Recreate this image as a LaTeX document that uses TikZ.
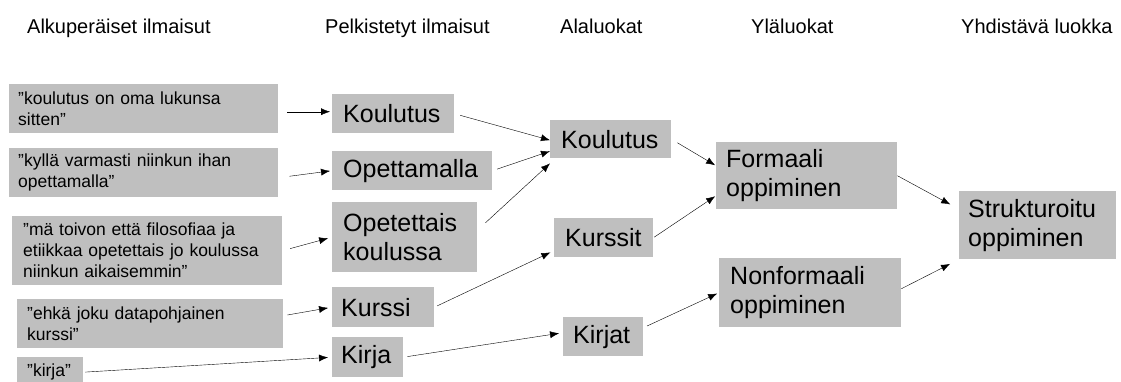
\documentclass[tikz,border=0pt]{standalone}
\usepackage{fontspec}
\setmainfont{Liberation Sans}
\usepackage{tikz}
\usetikzlibrary{positioning, arrows.meta}
\definecolor{boxgray}{RGB}{191,191,191}
\tikzset{
x=1pt, y=-1pt, % one unit is one pixel of the slide, y runs downwards
->, % every connector is directed
>={Latex[length=9pt,width=7pt]}, % small filled arrow heads
line width=1.1pt,
gaps/.style 2 args={shorten <=#1, shorten >=#2}, % free space at both ends of a connector
title/.style={anchor=base west, inner sep=0pt, font=\fontsize{20}{24}\selectfont},
quote/.style={anchor=north west, fill=boxgray, align=left, inner xsep=9pt, inner ysep=0pt,
  font=\fontsize{17.5}{21}\selectfont},
code/.style={anchor=north west, fill=boxgray, align=left, inner xsep=11pt, inner ysep=0pt,
  font=\fontsize{25}{29}\selectfont},
}

\begin{document}
\begin{tikzpicture}
\useasboundingbox (0,0) rectangle (1121,381);

% column titles
\node[title] (t1) at (27,33) {Alkuperäiset ilmaisut};
\node[title] (t2) at (325,33) {Pelkistetyt ilmaisut};
\node[title] (t3) at (560,33) {Alaluokat};
\node[title] (t4) at (751,33) {Yläluokat};
\node[title] (t5) at (961,33) {Yhdistävä luokka};

% original expressions
\node[quote, text width=251pt, minimum height=49pt] (q1) at (9,84) {"koulutus on oma lukunsa\\sitten”};
\node[quote, text width=251pt, minimum height=49pt] (q2) at (9,148) {"kyllä varmasti niinkun ihan\\opettamalla”};
\node[quote, inner xsep=11pt, text width=248pt, minimum height=69pt] (q3) at (12,216) {"mä toivon että filosofiaa ja\\etiikkaa opetettais jo koulussa\\niinkun aikaisemmin”};
\node[quote, inner xsep=10pt, text width=246pt, minimum height=49pt] (q4) at (17,299) {"ehkä joku datapohjainen\\kurssi”};
\node[quote, inner xsep=10pt, text width=46pt, minimum height=30pt] (q5) at (17,357) {"kirja”};

% reduced expressions
\node[code, text width=100pt, minimum height=39pt] (p1) at (332,94) {Koulutus};
\node[code, text width=138pt, minimum height=39pt] (p2) at (332,151) {Opettamalla};
\node[code, text width=123pt, minimum height=70pt] (p3) at (332,202) {Opetettais\\koulussa};
\node[code, inner xsep=9pt, text width=84pt, minimum height=40pt] (p4) at (332,287) {Kurssi};
\node[code, inner xsep=9pt, text width=53pt, minimum height=40pt] (p5) at (332,337) {Kirja};

% sub categories
\node[code, text width=99pt, minimum height=38pt] (a1) at (550,120) {Koulutus};
\node[code, text width=77pt, minimum height=39pt] (a2) at (554,218) {Kurssit};
\node[code, inner xsep=10pt, text width=60pt, minimum height=39pt] (a3) at (563,317) {Kirjat};

% upper categories
\node[code, inner xsep=10pt, text width=161pt, minimum height=67pt] (u1) at (716,142) {Formaali\\oppiminen};
\node[code, text width=160pt, minimum height=69pt] (u2) at (719,258) {Nonformaali\\oppiminen};

% joining category
\node[code, inner xsep=9pt, text width=139pt, minimum height=68pt] (s1) at (959,191) {Strukturoitu\\oppiminen};

\path ([yshift=-3pt]q1.east) edge[gaps={9pt}{2pt}] ([yshift=2pt]p1.west)
      ([yshift=-5pt]q2.east) edge[gaps={11pt}{2pt}] (p2.west)
      (q3.east) edge[gaps={8pt}{4pt}] (p3.west)
      ([yshift=8pt]q4.east) edge[gaps={4pt}{4pt}] (p4.west)
      (q5.east) edge[gaps={2pt}{4pt}] (p5.west)
      (p1.east) edge[gaps={6pt}{0pt}] ([yshift=-1pt]a1.west)
      (p2.east) edge[gaps={5pt}{0pt}] ([yshift=-12pt]a1.west)
      ([yshift=7pt]p3.east) edge[gaps={11pt}{0pt}] ([yshift=-5pt]a1.south west)
      (p4.east) edge[gaps={3pt}{4pt}] ([yshift=-13pt]a2.west)
      (p5.east) edge[gaps={4pt}{4pt}] ([yshift=4pt]a3.west)
      (a1.east) edge[gaps={7pt}{1pt}] ([yshift=10pt]u1.west)
      (a2.east) edge[gaps={1pt}{1pt}] ([yshift=-20pt]u1.west)
      ([yshift=9pt]a3.east) edge[gaps={4pt}{2pt}] (u2.west)
      (u1.east) edge[gaps={0pt}{10pt}] ([yshift=16pt]s1.west)
      ([yshift=4pt]u2.east) edge[gaps={0pt}{10pt}] (s1.south west);
\end{tikzpicture}
\end{document}
